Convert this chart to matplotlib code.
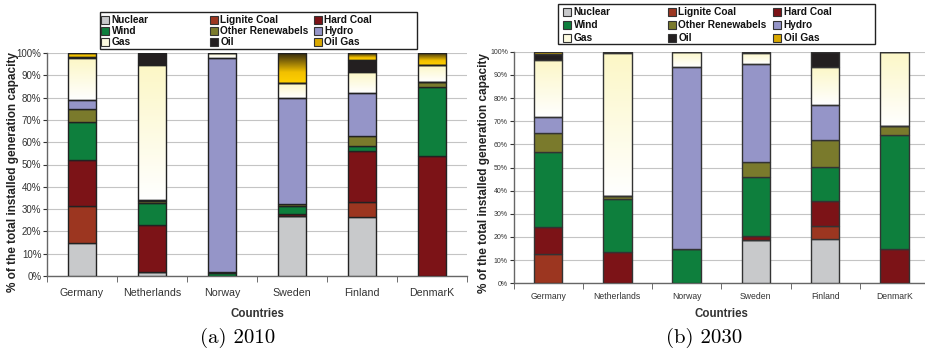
import numpy as np
import matplotlib
matplotlib.use("Agg")
import matplotlib.pyplot as plt
from matplotlib import font_manager as fm
from matplotlib.colors import LinearSegmentedColormap
from matplotlib.patches import Rectangle

plt.rcParams['font.family'] = ['Liberation Sans', 'DejaVu Sans']

countries = ["Germany", "Netherlands", "Norway", "Sweden", "Finland", "DenmarK"]
sources = ["Nuclear", "Lignite Coal", "Hard Coal", "Wind", "Other Renewabels",
           "Hydro", "Gas", "Oil", "Oil Gas"]

# shares in % of installed capacity, 2010
nuclear_2010 = [14.6, 1.6, 0, 27.0, 26.6, 0]
lignite_2010 = [16.7, 0, 0, 0, 6.8, 0]
hardcoal_2010 = [20.7, 21.1, 0, 1.0, 22.6, 53.7]
wind_2010 = [17.1, 10.1, 1.5, 3.5, 2.2, 31.2]
otherren_2010 = [5.9, 1.0, 0.3, 1.0, 4.5, 2.2]
hydro_2010 = [4.1, 0.2, 95.8, 47.3, 19.4, 0]
gas_2010 = [18.5, 60.5, 2.4, 6.7, 9.2, 7.5]
oil_2010 = [0.4, 5.5, 0, 0, 5.6, 0]
oilgas_2010 = [2.0, 0, 0, 13.5, 3.1, 5.4]

# 2030
nuclear_2030 = [0, 0, 0, 18.9, 19.3, 0]
lignite_2030 = [12.6, 0, 0, 0, 5.6, 0]
hardcoal_2030 = [11.7, 13.6, 0, 1.4, 10.5, 15.0]
wind_2030 = [32.5, 22.8, 15.0, 25.7, 14.9, 49.0]
otherren_2030 = [8.2, 1.5, 0, 6.2, 11.5, 4.0]
hydro_2030 = [6.6, 0, 78.5, 42.3, 15.2, 0]
gas_2030 = [24.8, 61.4, 6.5, 4.8, 16.5, 32.0]
oil_2030 = [2.6, 0.7, 0, 0.7, 6.5, 0]
oilgas_2030 = [1.0, 0, 0, 0, 0, 0]

colors = {
    "Nuclear": "#c8c9cb",
    "Lignite Coal": "#9c3620",
    "Hard Coal": "#7c1317",
    "Wind": "#0e7f3d",
    "Other Renewabels": "#7a7a2c",
    "Hydro": "#9595c8",
    "Oil": "#231f20",
}
gas_cmap = LinearSegmentedColormap.from_list("gas", ["#ffffff", "#fcf7c6"])
oilgas_cmap = LinearSegmentedColormap.from_list(
    "oilgas", [(0, "#ffd000"), (0.35, "#f2c000"), (1, "#2a2210")])
gradients = {"Gas": gas_cmap, "Oil Gas": oilgas_cmap}

# make sure the bold face is the normal-width Liberation Sans Bold
bold_file = None
for f in fm.fontManager.ttflist:
    if (f.name == "Liberation Sans" and f.style == "normal"
            and f.weight in (700, "bold") and "Narrow" not in f.fname):
        bold_file = f.fname
        break


def bold(size):
    if bold_file:
        return fm.FontProperties(fname=bold_file, size=size)
    return fm.FontProperties(family="DejaVu Sans", weight="bold", size=size)


def draw_panel(ax, data, width, edge, xtick_fs, ytick_fs, xpad):
    x = np.arange(len(countries))
    bottom = np.zeros(len(countries))
    grad = np.linspace(0, 1, 100).reshape(-1, 1)
    for name, vals in zip(sources, data):
        vals = np.array(vals, dtype=float)
        if name in gradients:
            for xi, b, v in zip(x, bottom, vals):
                if v > 0:
                    ax.imshow(grad, cmap=gradients[name], origin="lower", aspect="auto",
                              extent=(xi - width / 2, xi + width / 2, b, b + v), zorder=2)
            ax.bar(x, vals, width, bottom=bottom, facecolor="none",
                   edgecolor=edge, linewidth=1.0, zorder=3)
        else:
            ax.bar(x, vals, width, bottom=bottom, color=colors[name],
                   edgecolor=edge, linewidth=1.0, zorder=3)
        bottom += vals
    ax.set_xlim(-0.5, len(countries) - 0.5)
    ax.set_ylim(0, 100)
    ax.set_yticks(np.arange(0, 101, 10))
    ax.set_yticklabels([f"{v}%" for v in range(0, 101, 10)])
    ax.set_xticks(x)
    ax.set_xticklabels(countries)
    ax.set_xticks(np.arange(-0.5, len(countries), 1), minor=True)
    ax.tick_params(axis="x", which="major", length=0, labelsize=xtick_fs,
                   colors="#333333", pad=xpad)
    ax.tick_params(axis="x", which="minor", length=4, color="#555555")
    ax.tick_params(axis="y", length=3, labelsize=ytick_fs, colors="#333333", pad=1)
    ax.grid(axis="y", color="#c4c4c4", linewidth=0.8)
    ax.set_axisbelow(True)
    for s in ["top", "right"]:
        ax.spines[s].set_visible(False)
    for s in ["left", "bottom"]:
        ax.spines[s].set_color("#666666")
        ax.spines[s].set_linewidth(1.0)
    ax.set_xlabel("Countries", fontproperties=bold(8.3), color="#333333")
    ax.set_ylabel("% of the total installed generation capacity",
                  fontproperties=bold(8.5), color="#222222")


def draw_legend(fig, box, col_x, row_y):
    # box and positions in figure pixels (origin top left)
    W, H = fig.bbox.width, fig.bbox.height

    def fx(px):
        return px / W

    def fy(py):
        return 1 - py / H

    x0, y0, x1, y1 = box
    fig.patches.append(Rectangle((fx(x0), fy(y1)), fx(x1) - fx(x0), fy(y0) - fy(y1),
                                 transform=fig.transFigure, facecolor="white",
                                 edgecolor="#222222", linewidth=1.0))
    legend_colors = dict(colors)
    legend_colors["Gas"] = "#fdfbe0"
    legend_colors["Oil Gas"] = "#d9a800"
    for i, name in enumerate(sources):
        r, c = divmod(i, 3)
        sx, sy = col_x[c], row_y[r]
        fig.patches.append(Rectangle((fx(sx), fy(sy + 4)), fx(8), 8 / H,
                                     transform=fig.transFigure,
                                     facecolor=legend_colors[name],
                                     edgecolor="#333333", linewidth=0.8))
        fig.text(fx(sx + 10.5), fy(sy), name, fontproperties=bold(7.3),
                 ha="left", va="center", color="#111111")


fig = plt.figure(figsize=(9.25, 3.53), dpi=100)
ax1 = fig.add_axes([47 / 925, 77 / 353, 420 / 925, 223 / 353])
ax2 = fig.add_axes([513.5 / 925, 69.7 / 353, 415.5 / 925, 231.6 / 353])

data_2010 = [nuclear_2010, lignite_2010, hardcoal_2010, wind_2010, otherren_2010,
             hydro_2010, gas_2010, oil_2010, oilgas_2010]
data_2030 = [nuclear_2030, lignite_2030, hardcoal_2030, wind_2030, otherren_2030,
             hydro_2030, gas_2030, oil_2030, oilgas_2030]

draw_panel(ax1, data_2010, 0.41, "#222222", 7.7, 7.0, 9)
draw_panel(ax2, data_2030, 0.41, "#333333", 6.2, 5.0, 6)

ax1.yaxis.set_label_coords(-0.066, 0.465)
ax2.yaxis.set_label_coords(-0.056, 0.475)
ax1.xaxis.set_label_coords(0.5, (276 - 308) / 223)
ax2.xaxis.set_label_coords(0.5, (283.3 - 308) / 231.6)

draw_legend(fig, (100, 12, 417, 49), [101, 210, 314], [19.7, 31.3, 42.3])
draw_legend(fig, (558, 4, 875, 44), [563, 668, 773], [11.7, 25.0, 38.3])

fig.text(238 / 925, 1 - 338 / 353, "(a) 2010", family="cmr10", fontsize=15,
         ha="center", va="center")
fig.text(704 / 925, 1 - 338 / 353, "(b) 2030", family="cmr10", fontsize=15,
         ha="center", va="center")

fig.savefig("out.png", dpi=100)
